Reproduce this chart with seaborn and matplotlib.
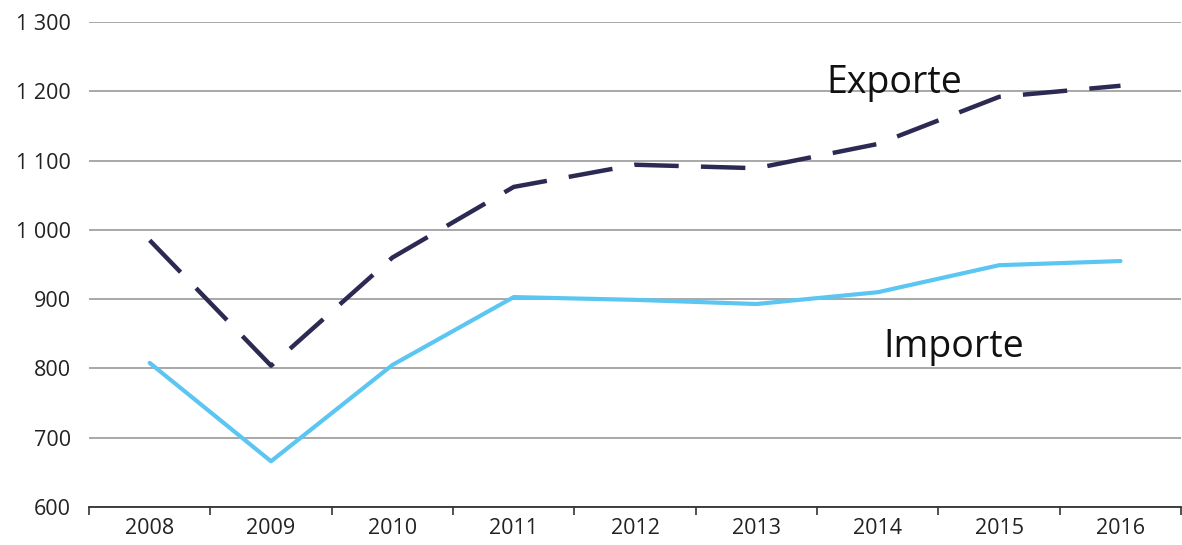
import matplotlib
matplotlib.use("Agg")
import matplotlib.pyplot as plt
from matplotlib.ticker import FixedLocator, FuncFormatter
import seaborn as sns
import pandas as pd

years = ["2008", "2009", "2010", "2011", "2012", "2013", "2014", "2015", "2016"]
exporte = [985, 804, 960, 1062, 1094, 1089, 1124, 1192, 1208]
importe = [808, 666, 805, 903, 899, 893, 910, 949, 955]
y_ticks = [600, 700, 800, 900, 1000, 1100, 1200, 1300]

sns.set_theme(style="white")
plt.rcParams["font.family"] = ["Open Sans", "DejaVu Sans"]

pos = list(range(len(years)))
df = pd.DataFrame({"pos": pos * 2,
                   "wert": exporte + importe,
                   "reihe": ["Exporte"] * len(years) + ["Importe"] * len(years)})

fig = plt.figure(figsize=(11.82, 5.45), dpi=100)
ax = fig.add_axes([0.0753, 0.0697, 0.924, 0.8899])

sns.lineplot(data=df[df.reihe == "Importe"], x="pos", y="wert", ax=ax,
             color="#5cc6f2", linewidth=3, legend=False)
sns.lineplot(data=df[df.reihe == "Exporte"], x="pos", y="wert", ax=ax,
             color="#2c2a52", linewidth=3.2, legend=False)
ax.lines[-1].set_dashes([10, 5])

ax.set_xlim(-0.5, len(years) - 0.5)
ax.set_ylim(600, 1300)
ax.set_xlabel("")
ax.set_ylabel("")

ax.set_yticks(y_ticks)
ax.yaxis.set_major_formatter(FuncFormatter(lambda v, p: f"{int(v):,}".replace(",", " ")))
ax.yaxis.grid(True, color="#9a9a9a", linewidth=1.2)
ax.set_axisbelow(True)

ax.set_xticks(pos)
ax.set_xticklabels(years)
ax.xaxis.set_minor_locator(FixedLocator([p - 0.5 for p in pos] + [len(years) - 0.5]))
ax.tick_params(axis="x", which="major", length=0, labelsize=15.5, pad=8, colors="#222222")
ax.tick_params(axis="x", which="minor", length=6, width=1.2, color="#333333", bottom=True)
ax.tick_params(axis="y", length=0, labelsize=15.5, pad=13, colors="#222222")

for side in ["left", "right", "top"]:
    ax.spines[side].set_visible(False)
ax.spines["bottom"].set_color("#333333")
ax.spines["bottom"].set_linewidth(1.3)

ax.text(5.58, 1212, "Exporte", fontsize=27, color="#111111", va="center", ha="left")
ax.text(6.05, 831, "Importe", fontsize=27, color="#111111", va="center", ha="left")

fig.savefig("out.png", dpi=100, facecolor="white")
